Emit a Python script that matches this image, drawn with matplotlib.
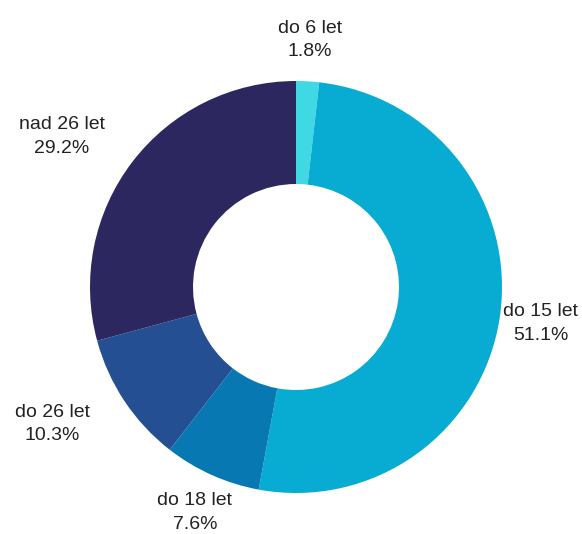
import numpy as np
import matplotlib.pyplot as plt

plt.rcParams['font.family'] = ['Liberation Sans', 'DejaVu Sans']

# data
labels = ['do 6 let', 'do 15 let', 'do 18 let', 'do 26 let', 'nad 26 let']
shares = [1.8, 51.1, 7.6, 10.3, 29.2]
colors = ['#40d8e2', '#08abd2', '#0878b3', '#245093', '#2d2760']

W, H, DPI = 582, 534, 100
R_PX = 206.0
CX, CY = 296.0, 287.0  # donut centre in pixels (from top-left)

fig = plt.figure(figsize=(W / DPI, H / DPI), dpi=DPI)
ax = fig.add_axes([0, 0, 1, 1])

wedges, _ = ax.pie(shares, colors=colors, startangle=90, counterclock=False,
                   radius=1.0, wedgeprops=dict(width=0.5, edgecolor='none'))

# labels outside the ring
for w, lab, val in zip(wedges, labels, shares):
    mid = np.deg2rad((w.theta1 + w.theta2) / 2)
    x, y = 1.2 * np.cos(mid), 1.2 * np.sin(mid)
    if np.cos(mid) < -0.5:
        x -= 0.185
    ax.text(x, y, f'{lab}\n{val:.1f}%', ha='center', va='center',
            fontsize=14, color='#222222', linespacing=1.5)

ax.set_xlim(-CX / R_PX, (W - CX) / R_PX)
ax.set_ylim(-(H - CY) / R_PX, CY / R_PX)
ax.set_aspect('auto')
ax.axis('off')

fig.savefig('out.png', dpi=DPI, facecolor='white')
